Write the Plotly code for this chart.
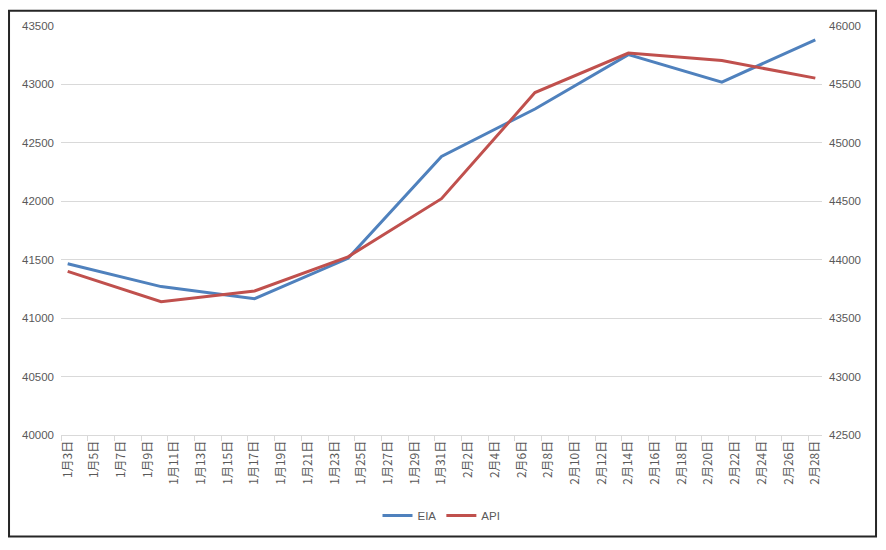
import plotly.graph_objects as go

# ---- data ----
all_days = [f"1月{d}日" for d in range(3, 32)] + [f"2月{d}日" for d in range(1, 29)]
point_dates = ["1月3日", "1月10日", "1月17日", "1月24日", "1月31日",
               "2月7日", "2月14日", "2月21日", "2月28日"]
eia = [41465, 41270, 41167, 41512, 42383, 42790, 43255, 43020, 43382]
api = [43900, 43640, 43733, 44025, 44522, 45430, 45768, 45704, 45554]
left_ticks = [40000, 40500, 41000, 41500, 42000, 42500, 43000, 43500]
right_ticks = [42500, 43000, 43500, 44000, 44500, 45000, 45500, 46000]

BLUE = "#4F81BD"
RED = "#C0504D"
TXT = "#595959"
GRID = "#D9D9D9"
NUMFONT = "Liberation Sans"
CJKFONT = "Noto Sans CJK SC"

fig = go.Figure()
# invisible trace to register all day categories
fig.add_trace(go.Scatter(x=all_days, y=[None] * len(all_days), mode="lines",
                         showlegend=False, hoverinfo="skip"))
fig.add_trace(go.Scatter(x=point_dates, y=eia, name="EIA", mode="lines",
                         line=dict(color=BLUE, width=3)))
fig.add_trace(go.Scatter(x=point_dates, y=api, name="API", mode="lines",
                         line=dict(color=RED, width=3), yaxis="y2"))

fig.update_layout(
    width=870, height=534,
    margin=dict(l=53, r=56, t=16, b=104),
    paper_bgcolor="white", plot_bgcolor="white",
    font=dict(family=NUMFONT, size=12, color=TXT),
    xaxis=dict(
        type="category", categoryorder="array", categoryarray=all_days,
        range=[-0.5, len(all_days) - 0.5],
        tickmode="linear", tick0=0, dtick=2,
        tickson="boundaries", ticks="outside", ticklen=5, tickcolor=GRID,
        showgrid=False, showline=True, linecolor=GRID, linewidth=1,
        tickangle=-90, tickfont=dict(family=CJKFONT, size=12, color=TXT),
        zeroline=False,
    ),
    yaxis=dict(
        range=[40000, 43500], tickvals=left_ticks, tickformat="d", showgrid=True,
        gridcolor=GRID, gridwidth=1, zeroline=False, showline=False,
        tickfont=dict(family=NUMFONT, size=11.5, color=TXT),
        ticklabelstandoff=6,
    ),
    yaxis2=dict(
        range=[42500, 46000], tickvals=right_ticks, tickformat="d",
        overlaying="y", side="right",
        showgrid=False, zeroline=False, showline=False,
        tickfont=dict(family=NUMFONT, size=11.5, color=TXT),
        ticklabelstandoff=6,
    ),
    legend=dict(orientation="h", x=0.5, xanchor="center", y=-0.197, yanchor="middle",
                font=dict(family=NUMFONT, size=11.5, color=TXT),
                bgcolor="rgba(0,0,0,0)"),
    showlegend=True,
    shapes=[dict(type="rect", xref="paper", yref="paper",
                 x0=-0.0683, x1=1.0710, y0=-0.2481, y1=1.0370,
                 line=dict(color="#262626", width=2), fillcolor="rgba(0,0,0,0)")],
)

fig.write_html("out.html")
